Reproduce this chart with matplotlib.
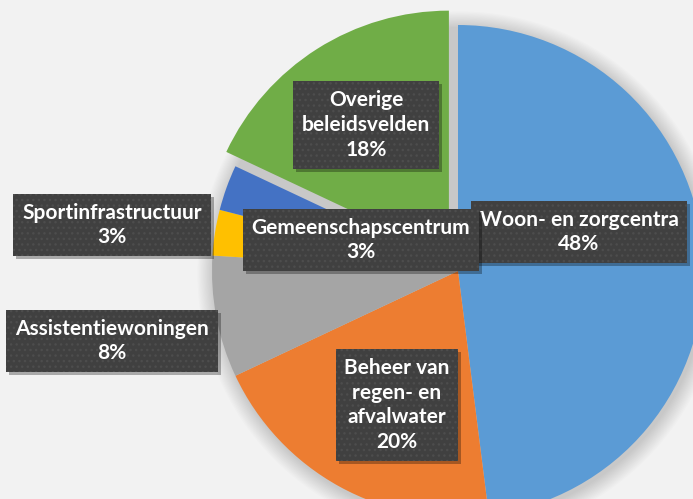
import matplotlib
matplotlib.use('Agg')
import matplotlib.pyplot as plt
from matplotlib.patches import Circle, Rectangle

categories = ['Woon- en zorgcentra', 'Beheer van\nregen- en\nafvalwater',
              'Assistentiewoningen', 'Sportinfrastructuur',
              'Gemeenschapscentrum', 'Overige\nbeleidsvelden']
values = [48, 20, 8, 3, 3, 18]
colors = ['#5B9BD5', '#ED7D31', '#A5A5A5', '#FFC000', '#4472C4', '#70AD47']
explode_px = [0, 0, 0, 0, 0, 17]
# label centres in pixel coords (x, y from top)
label_pos = [(579, 232), (397, 405), (112, 341), (112, 225), (361, 240), (366, 125)]
label_z = [10, 10, 10, 10, 12, 10]

W, H = 693, 499
fig = plt.figure(figsize=(W / 100, H / 100), dpi=100, facecolor='#f2f2f2')
ax = fig.add_axes([0, 0, 1, 1])
ax.set_facecolor('#f2f2f2')

cx, cy, R = 458, H - 271, 246

# soft shadow around the pie
for i in range(14):
    ax.add_patch(Circle((cx + 2, cy - 3), R + 1 + i * 1.2, color='black',
                        alpha=0.012, lw=0, zorder=0))

wedges, _ = ax.pie(values, colors=colors, explode=explode_px, startangle=90,
                   counterclock=False, center=(cx, cy), radius=R,
                   wedgeprops=dict(linewidth=0), frame=True)
ax.set_xlim(0, W)
ax.set_ylim(0, H)
ax.set_aspect('equal')
ax.axis('off')

font = dict(family=['Lato', 'DejaVu Sans'], weight='bold', size=15,
            ha='center', va='center', linespacing=1.3)

texts = []
for cat, v, (lx, ly), z in zip(categories, values, label_pos, label_z):
    txt = f'{cat}\n{v}%'
    t = ax.text(lx, H - ly, txt, zorder=z, color='white',
                bbox=dict(boxstyle='square,pad=0.42', fc='#404040', ec='#4d4d4d',
                          hatch='...', lw=0),
                **font)
    texts.append((t, z))

fig.canvas.draw()
inv = ax.transData.inverted()
for t, z in texts:
    ext = t.get_bbox_patch().get_window_extent()
    (x0, y0), (x1, y1) = inv.transform([[ext.x0, ext.y0], [ext.x1, ext.y1]])
    ax.add_patch(Rectangle((x0 + 3, y0 - 3), x1 - x0, y1 - y0, fc='black',
                           alpha=0.3, lw=0, zorder=z - 1))

fig.savefig('out.png', dpi=100, facecolor=fig.get_facecolor())
